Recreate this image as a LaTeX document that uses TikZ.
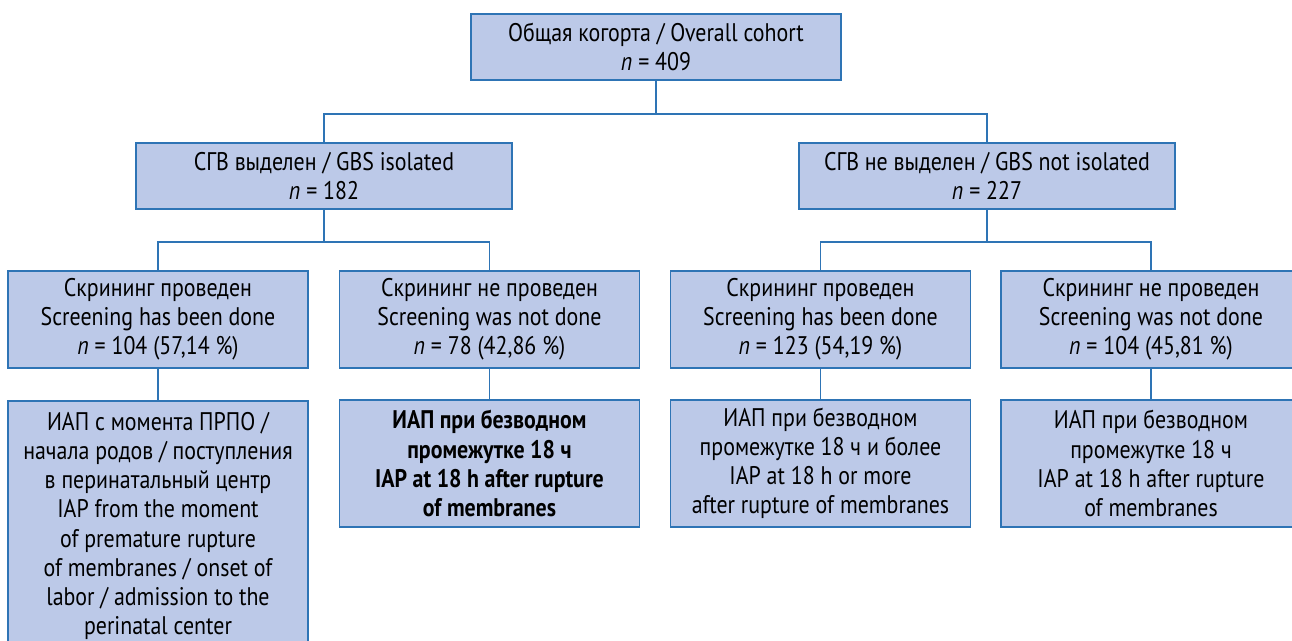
\documentclass[tikz,border=0pt]{standalone}
\usepackage{fontspec}
\setmainfont{PT Sans}[FakeStretch=0.86]
\definecolor{boxfill}{HTML}{BCC9E8}
\definecolor{boxline}{HTML}{2E74B5}

\begin{document}
\begin{tikzpicture}[x=0.02cm,y=-0.02cm,
    box/.style={draw=boxline,fill=boxfill,line width=1pt,align=center,
      inner sep=0pt,font=\fontsize{14.5}{16.6}\selectfont},
    link/.style={draw=boxline,line width=1pt}]
  \clip (0,0) rectangle (1292,640);
  % cohort
  \node[box,minimum width=7.4cm,minimum height=1.32cm] (cohort) at (656,47)
    {Общая когорта / Overall cohort\\ \textit{n} = 409};
  % GBS
  \node[box,minimum width=7.52cm,minimum height=1.32cm] (gbsyes) at (324,176)
    {СГВ выделен / GBS isolated\\ \textit{n} = 182};
  \node[box,minimum width=7.52cm,minimum height=1.32cm] (gbsno) at (987,176)
    {СГВ не выделен / GBS not isolated\\ \textit{n} = 227};
  % screening
  \node[box,minimum width=6cm,minimum height=1.94cm] (scr1) at (158,319.5)
    {Скрининг проведен\\ Screening has been done\\ \textit{n} = 104 (57,14 \%)};
  \node[box,minimum width=6cm,minimum height=1.94cm] (scr2) at (489.5,319.5)
    {Скрининг не проведен\\ Screening was not done\\ \textit{n} = 78 (42,86 \%)};
  \node[box,minimum width=6cm,minimum height=1.94cm] (scr3) at (820.5,319.5)
    {Скрининг проведен\\ Screening has been done\\ \textit{n} = 123 (54,19 \%)};
  \node[box,minimum width=6cm,minimum height=1.94cm] (scr4) at (1151,319.5)
    {Скрининг не проведен\\ Screening was not done\\ \textit{n} = 104 (45,81 \%)};
  % IAP
  \node[box,minimum width=6cm,minimum height=5cm] (iap1) at (158,526)
    {ИАП с момента ПРПО /\\ начала родов / поступления\\ в перинатальный центр\\
     IAP from the moment\\ of premature rupture\\ of membranes / onset of\\
     labor / admission to the\\ perinatal center};
  \node[box,minimum width=6cm,minimum height=2.54cm,font=\fontsize{14.5}{16.6}\selectfont\bfseries] (iap2) at (489.5,463.5)
    {ИАП при безводном\\ промежутке 18 ч\\ IAP at 18 h after rupture\\ of membranes};
  \node[box,minimum width=6cm,minimum height=2.54cm] (iap3) at (820.5,463.5)
    {ИАП при безводном\\ промежутке 18 ч и более\\ IAP at 18 h or more\\ after rupture of membranes};
  \node[box,minimum width=6cm,minimum height=2.54cm] (iap4) at (1151,463.5)
    {ИАП при безводном\\ промежутке 18 ч\\ IAP at 18 h after rupture\\ of membranes};
  % connectors
  \draw[link] (cohort.south) -- ++(0,33) -| (gbsyes.north);
  \draw[link] (cohort.south) -- ++(0,33) -| (gbsno.north);
  \draw[link] (gbsyes.south) -- ++(0,32) -| (scr1.north);
  \draw[link] (gbsyes.south) -- ++(0,32) -| (scr2.north);
  \draw[link] (gbsno.south) -- ++(0,32) -| (scr3.north);
  \draw[link] (gbsno.south) -- ++(0,32) -| (scr4.north);
  \draw[link] (scr1.south) -- (iap1.north);
  \draw[link] (scr2.south) -- (iap2.north);
  \draw[link] (scr3.south) -- (iap3.north);
  \draw[link] (scr4.south) -- (iap4.north);
\end{tikzpicture}
\end{document}
